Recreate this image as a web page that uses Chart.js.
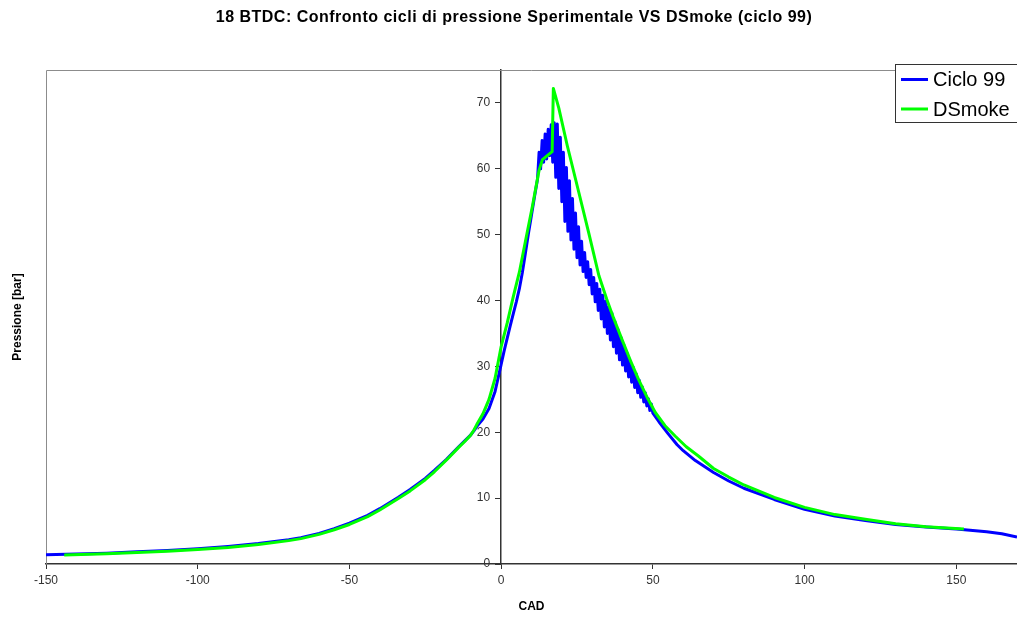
<!DOCTYPE html>
<html>
<head>
<meta charset="utf-8">
<script src="https://cdn.jsdelivr.net/npm/chart.js@4/dist/chart.umd.min.js"></script>
<style>
  html, body { margin: 0; padding: 0; background: #ffffff; }
  #wrap { width: 1017px; height: 619px; }
</style>
</head>
<body>
<div id="wrap"><canvas id="c" width="1017" height="619"></canvas></div>
<script>
const chartTitle = "18 BTDC: Confronto cicli di pressione Sperimentale VS DSmoke (ciclo 99)";
const xTitle = "CAD";
const yTitle = "Pressione [bar]";
const seriesNames = ["Ciclo 99", "DSmoke"];
const xTicks = [-150, -100, -50, 0, 50, 100, 150];
const yTicks = [0, 10, 20, 30, 40, 50, 60, 70];

// Ciclo 99 (sperimentale) – crank angle and pressure
const cadCiclo99 = [
  -150, -140, -130, -120, -110, -100, -90, -80, -70, -66, -60, -55, -50, -44, -40, -34, -30, -25, -22, -18, -14, -12, -10, -9, -8, -6, -4, -2, 0, 1, 2, 3, 4, 5, 6, 7, 8, 9, 10, 11,
  12, 12.5, 13, 13.5, 14, 14.5, 15, 15.5, 16, 16.5, 17, 17.5, 18, 18.5, 19, 19.5, 20, 20.5, 21, 21.5, 22, 22.5, 23, 23.5, 24, 24.5, 25, 25.5, 26, 26.5, 27, 27.5, 28, 28.5, 29, 29.5,
  30, 30.5, 31, 31.5, 32, 32.5, 33, 33.5, 34, 34.5, 35, 35.5, 36, 36.5, 37, 37.5, 38, 38.5, 39, 39.5, 40, 40.5, 41, 41.5, 42, 42.5, 43, 43.5, 44, 44.5, 45, 45.5, 46, 46.5, 47, 47.5, 48, 48.5, 49, 49.5, 50,
  52, 55, 58, 60, 64, 70, 75, 80, 90, 100, 110, 120, 130, 140, 150, 160, 165, 170
];
const pCiclo99 = [
  1.4, 1.5, 1.65, 1.85, 2.05, 2.3, 2.65, 3.1, 3.7, 4.0, 4.65, 5.35, 6.2, 7.4, 8.4, 10.1, 11.3, 13.0, 14.2, 15.9, 17.8, 18.7, 19.6, 20.2, 20.9, 22.0, 23.6, 26.2, 30.3, 32.4, 34.3, 36.2, 38.0, 39.8, 41.8, 44.3, 47.2, 50.2, 53.0, 55.8,
  58.5, 62.5, 60.0, 64.3, 61.0, 65.3, 61.5, 66.0, 62.0, 66.7, 61.0, 67.0, 58.7, 66.8, 57.0, 64.8, 55.0, 62.5, 52.0, 60.2, 50.5, 58.2, 49.2, 55.5, 47.8, 53.3, 46.5, 51.2, 45.4, 49.0, 44.4, 47.3, 43.5, 45.9, 42.4, 44.7,
  41.0, 43.5, 39.8, 42.6, 38.5, 41.7, 37.2, 40.8, 36.0, 39.9, 35.0, 39.0, 34.0, 38.1, 33.0, 36.8, 32.0, 35.6, 31.0, 34.4, 30.2, 33.2, 29.3, 32.0, 28.4, 30.9, 27.6, 29.9, 26.8, 28.9, 26.0, 27.9, 25.3, 26.9, 24.6, 26.0, 24.0, 25.1, 23.3, 24.3, 22.9,
  21.6, 19.8, 18.1, 17.2, 15.7, 13.9, 12.6, 11.5, 9.8, 8.3, 7.3, 6.6, 6.0, 5.6, 5.3, 4.9, 4.6, 4.1
];

// DSmoke (simulazione)
const cadDSmoke = [
  -144, -130, -120, -110, -100, -90, -80, -70, -66, -60, -55, -50, -44, -40, -34, -30, -25, -22, -18, -14, -12, -10, -9, -8, -6, -4, -2, 0, 2, 4, 6, 8, 10.3, 12.5, 13.6, 16.8, 17.2,
  19, 21.8, 25.6, 28.9, 32.2, 34.8, 37, 39.8, 42.5, 45.3, 48, 50.8, 54, 57.4, 61, 65, 70, 75, 80, 90, 100, 110, 120, 130, 140, 152.5
];
const pDSmoke = [
  1.35, 1.55, 1.75, 1.95, 2.2, 2.5, 2.95, 3.55, 3.85, 4.5, 5.2, 6.0, 7.2, 8.2, 9.9, 11.1, 12.8, 14.0, 15.8, 17.7, 18.6, 19.6, 20.3, 21.2, 22.8, 25.0, 28.2, 33.0, 36.6, 40.6, 44.3, 49.0, 54.3, 59.8, 61.4, 62.6, 72.2,
  69.2, 63.5, 56.4, 50.2, 43.8, 40.2, 37.4, 34.1, 31.0, 28.0, 25.4, 23.0, 21.0, 19.4, 17.8, 16.4, 14.5, 13.2, 12.0, 10.1, 8.6, 7.5, 6.8, 6.1, 5.65, 5.3
];

const toXY = (xs, ys) => xs.map((x, i) => ({ x: x, y: ys[i] }));

const FONT = "'Liberation Sans', Arial, sans-serif";

const framePlugin = {
  id: 'frame',
  beforeDatasetsDraw(chart) {
    const { ctx, chartArea: a } = chart;
    ctx.save();
    // plot frame (left and top)
    ctx.strokeStyle = '#8c8c8c';
    ctx.lineWidth = 1;
    ctx.beginPath();
    ctx.moveTo(a.left + 0.5, a.bottom);
    ctx.lineTo(a.left + 0.5, a.top + 0.5);
    ctx.lineTo(a.right, a.top + 0.5);
    ctx.stroke();

    // title
    ctx.fillStyle = '#000';
    ctx.font = 'bold 16px ' + FONT;
    try { ctx.letterSpacing = '0.5px'; } catch (e) {}
    ctx.textAlign = 'center';
    ctx.textBaseline = 'middle';
    ctx.fillText(chartTitle, 514, 18);
    try { ctx.letterSpacing = '0px'; } catch (e) {}

    // y-axis labels, to the left of the central axis
    const ys = chart.scales.y, xs = chart.scales.x;
    const axX = xs.getPixelForValue(0);
    ctx.font = '12px ' + FONT;
    ctx.fillStyle = '#333';
    ctx.textAlign = 'right';
    ctx.textBaseline = 'middle';
    ys.ticks.forEach(t => {
      ctx.fillText(String(t.value), axX - 11, ys.getPixelForValue(t.value));
    });

    // y title
    ctx.fillStyle = '#000';
    ctx.font = 'bold 12px ' + FONT;
    ctx.textAlign = 'center';
    ctx.translate(18, (a.top + a.bottom) / 2);
    ctx.rotate(-Math.PI / 2);
    ctx.fillText(yTitle, 0, 0);
    ctx.restore();
  }
};

const legendPlugin = {
  id: 'boxLegend',
  afterDraw(chart) {
    const { ctx } = chart;
    const x0 = 895.5, y0 = 64.5, w = 125, h = 58;
    ctx.save();
    ctx.fillStyle = '#ffffff';
    ctx.fillRect(x0, y0, w, h);
    ctx.strokeStyle = '#333333';
    ctx.lineWidth = 1;
    ctx.strokeRect(x0, y0, w, h);
    const rows = [79.5, 109];
    chart.data.datasets.forEach((ds, i) => {
      const y = rows[i];
      ctx.strokeStyle = ds.borderColor;
      ctx.lineWidth = 3;
      ctx.beginPath();
      ctx.moveTo(901, y);
      ctx.lineTo(928, y);
      ctx.stroke();
      ctx.fillStyle = '#000';
      ctx.font = '20px ' + FONT;
      ctx.textAlign = 'left';
      ctx.textBaseline = 'middle';
      ctx.fillText(ds.label, 933, y + 1);
    });
    ctx.restore();
  }
};

new Chart(document.getElementById('c'), {
  type: 'line',
  data: {
    datasets: [
      { label: seriesNames[0], data: toXY(cadCiclo99, pCiclo99), borderColor: '#0000ff', borderWidth: 3, borderJoinStyle: 'round', pointRadius: 0, tension: 0, fill: false, order: 2 },
      { label: seriesNames[1], data: toXY(cadDSmoke, pDSmoke), borderColor: '#00ff00', borderWidth: 3, borderJoinStyle: 'round', pointRadius: 0, tension: 0, fill: false, order: 1 }
    ]
  },
  options: {
    responsive: false,
    animation: false,
    devicePixelRatio: 1,
    layout: { padding: { left: 46, right: 0, top: 70, bottom: 5 } },
    plugins: {
      legend: { display: false },
      tooltip: { enabled: false },
      title: { display: false }
    },
    scales: {
      x: {
        type: 'linear',
        min: -150,
        max: 170,
        position: 'bottom',
        afterBuildTicks: (s) => { s.ticks = xTicks.map(v => ({ value: v })); },
        afterFit: (s) => { s.height = 50; },
        grid: { drawOnChartArea: false, drawTicks: true, tickLength: 5, color: '#333' },
        border: { color: '#333', width: 1.5 },
        ticks: { color: '#333', font: { family: FONT, size: 12 }, padding: 4, maxRotation: 0 },
        title: { display: true, text: xTitle, color: '#000', font: { family: FONT, size: 12, weight: 'bold' }, padding: 0 }
      },
      y: {
        type: 'linear',
        min: 0,
        max: 75,
        position: { x: 0 },
        afterBuildTicks: (s) => { s.ticks = yTicks.map(v => ({ value: v })); },
        grid: { drawOnChartArea: false, drawTicks: true, tickLength: 5, color: '#333' },
        border: { color: '#333', width: 1.5 },
        ticks: { display: false }
      }
    }
  },
  plugins: [framePlugin, legendPlugin]
});
</script>
</body>
</html>
